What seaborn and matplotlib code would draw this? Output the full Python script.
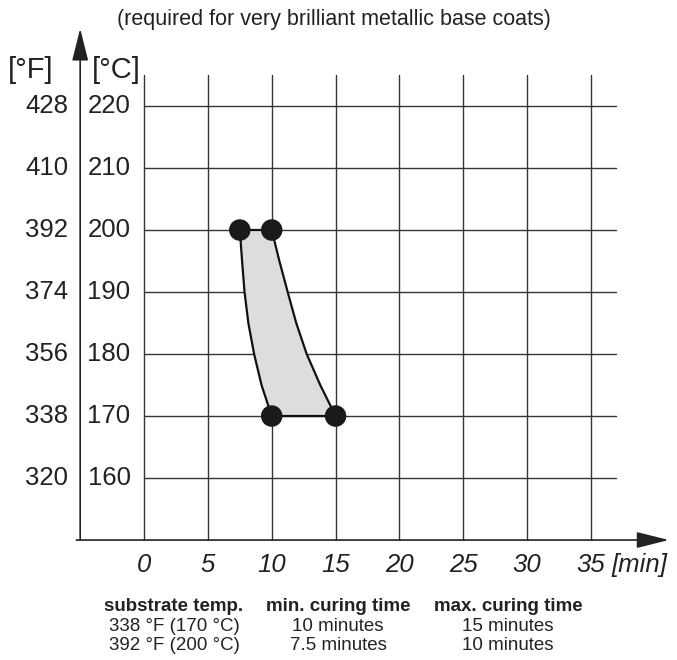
import matplotlib.pyplot as plt
import pandas as pd
import seaborn as sns

# axis labels / grid
temps_c = [220, 210, 200, 190, 180, 170, 160]
temps_f = [428, 410, 392, 374, 356, 338, 320]
minutes = [0, 5, 10, 15, 20, 25, 30, 35]

# curing window edges
curve_temp = [200, 195, 190, 185, 180, 175, 170]
min_time = [7.5, 7.68, 7.87, 8.17, 8.62, 9.2, 10.0]
max_time = [10.0, 10.6, 11.25, 11.92, 12.74, 13.8, 15.0]

# corner points
corner_time = [7.5, 10, 10, 15]
corner_temp = [200, 200, 170, 170]

table_header = ['substrate temp.', 'min. curing time', 'max. curing time']
table_rows = [['338 °F (170 °C)', '10 minutes', '15 minutes'],
              ['392 °F (200 °C)', '7.5 minutes', '10 minutes']]

sns.set_theme(style='white')
plt.rcParams['font.family'] = ['Liberation Sans', 'DejaVu Sans']

LINE = '#363636'
TEXT = '#222222'

fig = plt.figure(figsize=(6.77, 6.6), dpi=100)
ax = fig.add_axes([0, 0, 1, 1])
ax.set_xlim(-11.28, 41.74)
ax.set_ylim(130.65, 237.1)
ax.axis('off')

# grid
for m in minutes:
    ax.plot([m, m], [150, 225], color=LINE, lw=1.0, zorder=1)
for t in temps_c:
    ax.plot([0, 37], [t, t], color=LINE, lw=1.0, zorder=1)

# axes with arrows
arrow = dict(arrowstyle='-|>,head_length=0.8,head_width=0.2',
             mutation_scale=25, lw=1.2, color=TEXT, shrinkA=0, shrinkB=0)
ax.annotate('', xy=(-5.0, 232.5), xytext=(-5.0, 150), arrowprops=arrow)
ax.annotate('', xy=(41.1, 150), xytext=(-5.3, 150), arrowprops=arrow)

# curing window
win = pd.DataFrame({'temp': curve_temp, 'tmin': min_time, 'tmax': max_time})
ax.fill_betweenx(win['temp'], win['tmin'], win['tmax'],
                 color='#dcdddc', lw=0, zorder=2)
sns.lineplot(data=win, x='tmin', y='temp', sort=False, color='#111111',
             lw=1.6, ax=ax, zorder=3)
sns.lineplot(data=win, x='tmax', y='temp', sort=False, color='#111111',
             lw=1.6, ax=ax, zorder=3)
ax.plot(corner_time[:2], corner_temp[:2], color='#111111', lw=1.6, zorder=3)
ax.plot(corner_time[2:], corner_temp[2:], color='#111111', lw=1.6, zorder=3)
sns.scatterplot(x=corner_time, y=corner_temp, s=240, color='#1a1a1a',
                edgecolor='none', ax=ax, zorder=4)

# tick labels
for c, f in zip(temps_c, temps_f):
    ax.text(-1.05, c, str(c), ha='right', va='center', fontsize=18.5, color=TEXT)
    ax.text(-5.95, c, str(f), ha='right', va='center', fontsize=18.5, color=TEXT)
ax.text(-8.85, 225.8, '[°F]', ha='center', va='center', fontsize=21, color=TEXT)
ax.text(-2.2, 225.8, '[°C]', ha='center', va='center', fontsize=21, color=TEXT)
for m in minutes:
    ax.text(m, 146.0, str(m), ha='center', va='center', fontsize=18.5,
            style='italic', color=TEXT)
ax.text(38.8, 146.0, '[min]', ha='center', va='center', fontsize=18.5,
        style='italic', color=TEXT)

ax.text(14.84, 234.0, '(required for very brilliant metallic base coats)',
        ha='center', va='center', fontsize=15.5, color=TEXT)

# table under the chart
col_x = [2.35, 15.19, 28.5]
row_y = [139.2, 136.1, 133.0]
for x, h in zip(col_x, table_header):
    ax.text(x, row_y[0], h, ha='center', va='center', fontsize=13.5,
            fontweight='bold', color=TEXT)
for y, row in zip(row_y[1:], table_rows):
    for x, cell in zip(col_x, row):
        ax.text(x, y, cell, ha='center', va='center', fontsize=13.5, color=TEXT)

fig.savefig('out.png', dpi=100)
